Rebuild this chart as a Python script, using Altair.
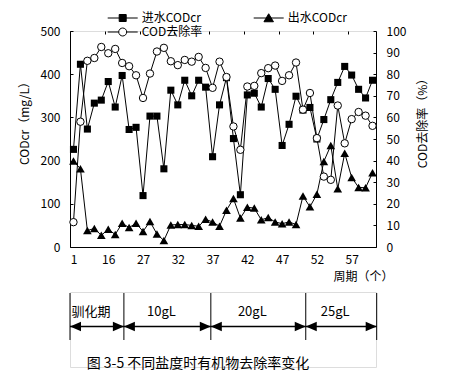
import altair as alt
import pandas as pd

# ---------------- data ----------------
periods = list(range(44))
influent = [226, 423, 273, 333, 340, 383, 324, 397, 272, 277,
            119, 303, 303, 181, 363, 329, 386, 350, 386, 370,
            209, 329, 392, 251, 121, 352, 356, 324, 390, 365,
            235, 284, 349, 317, 323, 250, 295, 341, 381, 418,
            398, 365, 345, 386]
effluent = [199, 181, 38, 43, 27, 41, 29, 55, 45, 55,
            36, 59, 30, 15, 51, 52, 52, 50, 48, 64,
            58, 48, 85, 112, 67, 92, 90, 63, 68, 58,
            54, 58, 52, 118, 93, 122, 198, 235, 135, 217,
            161, 138, 137, 172]
removal = [11.5, 58, 86.2, 87.5, 92.6, 89.7, 91.7, 85.2, 83.7, 79.5,
           69, 80.3, 90.5, 92.2, 86, 84.2, 86.6, 85.8, 88, 82.9,
           73.7, 85.8, 78.7, 55.8, 45, 74.3, 74.6, 80.5, 82.8, 84,
           76.9, 79.5, 85.4, 63.6, 71.3, 50.4, 32.6, 31.1, 65.5, 48,
           59.2, 62.5, 60.8, 56.1]
tick_labels = ["1", "16", "27", "32", "37", "42", "47", "52", "57"]
series_names = ["进水CODcr", "出水CODcr", "COD去除率"]
stage_bounds = [-0.5, 7.25, 19.75, 33.4, 43.6]
stage_labels = ["驯化期", "10gL", "20gL", "25gL"]
caption = "图 3-5  不同盐度时有机物去除率变化"

FONT = "Noto Sans CJK SC"
W, H = 306, 216

df = pd.DataFrame({"i": periods, "inf": influent, "eff": effluent, "rate": removal})

xscale = alt.Scale(domain=[-0.5, 43.5], nice=False, zero=False)
tick_vals = [-0.5 + 5 * k for k in range(len(tick_labels))]
label_expr = "[" + ",".join("'%s'" % t for t in tick_labels) + "][round((datum.value+0.5)/5)]"

common_axis = dict(ticks=False, tickSize=0, grid=True, gridDash=[3, 1000], gridColor="black",
                   gridWidth=1, gridOpacity=1, domainColor="black", domainWidth=1,
                   labelColor="black", labelFont=FONT, labelFontSize=12,
                   titleFont=FONT, titleFontSize=12, titleFontWeight="normal", titleColor="black")

xaxis = alt.Axis(values=tick_vals, labelExpr=label_expr, labelOffset=3.5, labelPadding=7,
                 labelFlush=False, labelAngle=0, title="周期（个）", titleX=323, titleY=29,
                 titleAlign="right", titleBaseline="middle", **common_axis)
X = alt.X("i:Q", scale=xscale, axis=xaxis)

laxis = alt.Axis(values=[0, 100, 200, 300, 400, 500], labelPadding=10, title="CODcr（mg/L）",
                 titleX=-46, titleY=89, titleAngle=270, titleAlign="center",
                 titleBaseline="middle", **common_axis)
raxis = alt.Axis(orient="right", values=list(range(0, 101, 10)), labelPadding=10,
                 title="COD去除率（%）", titleX=46, titleY=89, titleAngle=270,
                 titleAlign="center", titleBaseline="middle", **common_axis)
lscale = alt.Scale(domain=[0, 500], nice=False)
rscale = alt.Scale(domain=[0, 100], nice=False)

base = alt.Chart(df)
line_in = base.mark_line(color="black", strokeWidth=1).encode(x=X, y=alt.Y("inf:Q", scale=lscale, axis=laxis))
pt_in = base.mark_point(shape="square", filled=True, color="black", size=50, opacity=1).encode(
    x=X, y=alt.Y("inf:Q", scale=lscale, axis=laxis))
line_ef = base.mark_line(color="black", strokeWidth=1).encode(x=X, y=alt.Y("eff:Q", scale=lscale, axis=laxis))
pt_ef = base.mark_point(shape="triangle-up", filled=True, color="black", size=75, opacity=1).encode(
    x=X, y=alt.Y("eff:Q", scale=lscale, axis=laxis))
left = alt.layer(line_in, line_ef, pt_in, pt_ef)

line_r = base.mark_line(color="black", strokeWidth=1).encode(x=X, y=alt.Y("rate:Q", scale=rscale, axis=raxis))
pt_r = base.mark_point(shape="circle", filled=True, fill="white", stroke="black", strokeWidth=1,
                       size=55, opacity=1).encode(x=X, y=alt.Y("rate:Q", scale=rscale, axis=raxis))
right = alt.layer(line_r, pt_r)

legend_paths = [
    "M-3,0H3M-0.7,-0.7H0.7V0.7H-0.7Z",
    "M-3,0H3M0,-0.85L0.95,0.75H-0.95Z",
    "M-3,0H-0.8M0.8,0H3M-0.8,0A0.8,0.8,0,1,1,0.8,0A0.8,0.8,0,1,1,-0.8,0Z",
]
leg = alt.Legend(orient="none", legendX=46.7, legendY=-19, columns=2, direction="horizontal",
                 title=None, labelFont=FONT, labelFontSize=12, labelColor="black",
                 labelOffset=13, columnPadding=49, rowPadding=2, symbolSize=100,
                 symbolStrokeColor="black", symbolStrokeWidth=1, symbolOpacity=1, padding=0)
legend_df = pd.DataFrame({"series": series_names})
# legend-only layer: its own marks have zero size, so only the legend symbols show
legend_layer = alt.Chart(legend_df).mark_point(filled=True, size=0, strokeWidth=1).encode(
    x=alt.value(0), y=alt.value(0),
    shape=alt.Shape("series:N", scale=alt.Scale(domain=series_names, range=legend_paths), legend=leg),
    fill=alt.Fill("series:N", scale=alt.Scale(domain=series_names, range=["black", "black", "white"]), legend=leg),
    stroke=alt.Stroke("series:N", scale=alt.Scale(domain=series_names, range=["black", "black", "black"]), legend=leg),
)

top = alt.layer(left, right, legend_layer).resolve_scale(y="independent").properties(width=W, height=H)

# ---------------- stage annotation ----------------
bounds_df = pd.DataFrame({"b": stage_bounds})
segs_df = pd.DataFrame({"x0": stage_bounds[:-1], "x1": stage_bounds[1:], "label": stage_labels})
segs_df["mid"] = (segs_df["x0"] + segs_df["x1"]) / 2
cap_df = pd.DataFrame({"t": [caption]})

AH = 75
vlines = alt.Chart(bounds_df).mark_rule(color="black", strokeWidth=1).encode(
    x=alt.X("b:Q", scale=xscale, axis=None), y=alt.value(1), y2=alt.value(48))
shafts = alt.Chart(segs_df).mark_rule(color="black", strokeWidth=1.5).encode(
    x=alt.X("x0:Q", scale=xscale, axis=None), x2="x1:Q", y=alt.value(34.5))
lheads = alt.Chart(segs_df).mark_point(shape="M0,0L2,-0.85L2,0.85Z", filled=True, color="black",
                                       size=121, opacity=1).encode(
    x=alt.X("x0:Q", scale=xscale, axis=None), y=alt.value(34.5))
rheads = alt.Chart(segs_df).mark_point(shape="M0,0L-2,-0.85L-2,0.85Z", filled=True, color="black",
                                       size=121, opacity=1).encode(
    x=alt.X("x1:Q", scale=xscale, axis=None), y=alt.value(34.5))
slabels = alt.Chart(segs_df).mark_text(font=FONT, fontSize=13, color="black", dx=-6,
                                       baseline="middle").encode(
    x=alt.X("mid:Q", scale=xscale, axis=None), y=alt.value(20), text="label:N")
cap = alt.Chart(cap_df).mark_text(font=FONT, fontSize=14, color="black", baseline="middle").encode(
    x=alt.value(128), y=alt.value(72), text="t:N")
bottom = alt.layer(vlines, shafts, lheads, rheads, slabels, cap).properties(width=W, height=AH)

chart = alt.vconcat(top, bottom, spacing=45, bounds="flush").properties(
    padding={"left": 9, "top": 4, "right": 5, "bottom": 0}
).configure_view(strokeWidth=0).configure(font=FONT)

chart.save("out.html", embed_options={"renderer": "svg", "actions": False})
